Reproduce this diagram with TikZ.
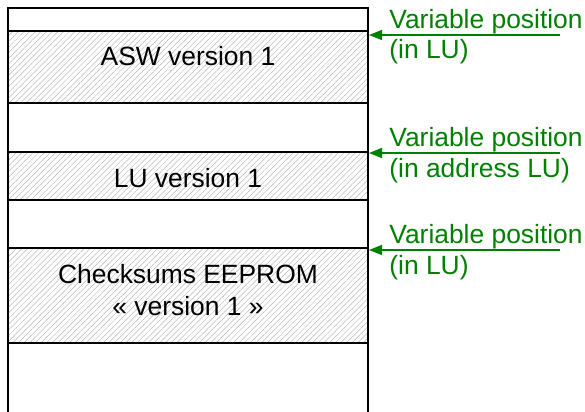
\documentclass[tikz,border=0pt]{standalone}
\usepackage{fontspec}
\setmainfont{Liberation Sans}
\usetikzlibrary{arrows.meta, patterns.meta}
\definecolor{notegreen}{HTML}{008000}
\definecolor{hatch}{gray}{0.72}
\tikzset{
  frame/.style={draw=black, line width=0.75pt},
  hatched/.style={
    frame, pattern color=hatch,
    pattern={Lines[angle=45, distance=2pt, line width=0.25pt]}
  },
  boxtext/.style={font=\fontsize{13.2}{16}\selectfont, align=center, inner sep=0pt},
  notetext/.style={font=\fontsize{13.2}{15.5}\selectfont, text=notegreen, align=left, inner sep=0pt},
  varrow/.style={-{Triangle[length=6.5pt, width=5pt]}, line width=0.75pt, draw=notegreen}
}

\begin{document}
\begin{tikzpicture}[x=0.5pt, y=-0.5pt]
  \useasboundingbox (0,0) rectangle (585,412);

  % memory column
  \draw[frame] (8,420) -- (8,8) -- (368,8) -- (368,420);
  \draw[hatched] (8,31) rectangle (368,103);
  \draw[hatched] (8,152) rectangle (368,200);
  \draw[hatched] (8,248) rectangle (368,343);

  % multi-line nodes: base is the last line
  \node[boxtext, anchor=base] (asw) at (188,65) {ASW version 1};
  \node[boxtext, anchor=base] (lu) at (188,187) {LU version 1};
  \node[boxtext, anchor=base] (chk) at (188,315) {Checksums EEPROM\\« version 1 »};

  % variable positions
  \foreach \y/\sub [count=\i] in {35/in LU, 153/in address LU, 250/in LU} {
    \coordinate (from\i) at (560,\y);
    \coordinate (to\i) at (369,\y);
    \draw[varrow] (from\i) -- (to\i);
    \node[notetext, anchor=base west] (note\i) at (389,\y+24) {Variable position\\(\sub)};
  }
\end{tikzpicture}
\end{document}
